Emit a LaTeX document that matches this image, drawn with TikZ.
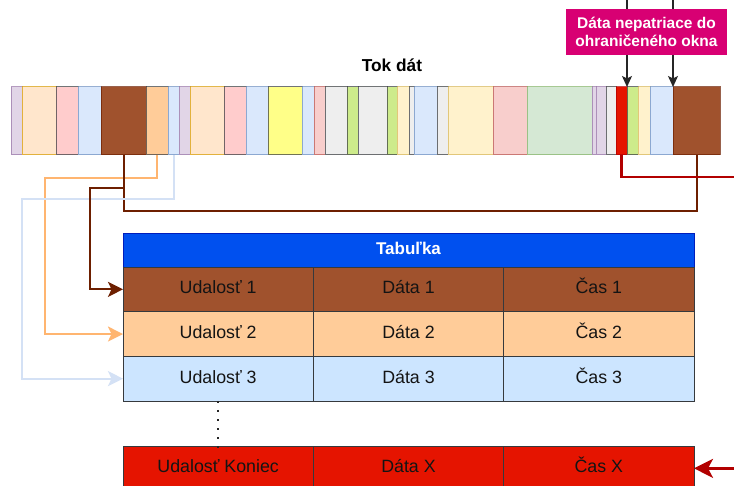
\documentclass[tikz,border=0pt]{standalone}
\usepackage{fontspec}
\setmainfont{Liberation Sans}
\usetikzlibrary{arrows.meta,calc}
\definecolor{cPur}{HTML}{E1D5E7}\definecolor{sPur}{HTML}{9673A6}
\definecolor{cPea}{HTML}{FFE6CC}\definecolor{sPea}{HTML}{D79B00}
\definecolor{cPnk}{HTML}{FFCCCC}\definecolor{sGry}{HTML}{36393D}
\definecolor{cLbl}{HTML}{DAE8FC}\definecolor{sLbl}{HTML}{6C8EBF}
\definecolor{cBrn}{HTML}{A0522D}\definecolor{sBrn}{HTML}{6D1F00}
\definecolor{cOrg}{HTML}{FFCC99}
\definecolor{cYel}{HTML}{FFFF88}
\definecolor{cPk2}{HTML}{F8CECC}\definecolor{sPk2}{HTML}{B85450}
\definecolor{cGry}{HTML}{EEEEEE}
\definecolor{cGrn}{HTML}{CDEB8B}
\definecolor{cCrm}{HTML}{FFF2CC}\definecolor{sCrm}{HTML}{D6B656}
\definecolor{cGr2}{HTML}{D5E8D4}\definecolor{sGr2}{HTML}{82B366}
\definecolor{cRed}{HTML}{E51400}\definecolor{sRed}{HTML}{B20000}
\definecolor{cBlu}{HTML}{0050EF}\definecolor{sBlu}{HTML}{001DBC}
\definecolor{cMag}{HTML}{D80073}
\definecolor{cRow3}{HTML}{CCE5FF}
\definecolor{lOrg}{HTML}{FFB570}
\definecolor{lLbl}{HTML}{D4E1F5}
\definecolor{lBrn}{HTML}{6D1F00}
\tikzset{
  segbox/.style={draw opacity=0.7, line width=1pt, inner sep=0pt, outer sep=0pt,
    minimum height=68pt, anchor=north west},
  cell/.style={draw=sGry, line width=0.8pt, inner sep=0pt, outer sep=0pt,
    minimum width=190.33pt, minimum height=44.7pt, anchor=north west,
    text height=12.6pt, text depth=3.6pt,
    text=black!92, font=\fontsize{17.8}{20}\selectfont},
  conn/.style={line width=2pt, rounded corners=0pt},
  tip/.style={-{Stealth[length=15pt,width=15pt,inset=3.5pt]}},
  lbl/.style={font=\bfseries\fontsize{17.3}{20}\selectfont, inner sep=0pt},
}
\begin{document}
\begin{tikzpicture}[x=1pt,y=-1pt]
\useasboundingbox (0,0) rectangle (734,486);
\fill[white] (0,0) rectangle (734,486);
% stream segments
\foreach \a/\b/\f/\d [count=\i] in {
  11/22/cPur/sPur, 22/56/cPea/sPea, 56/78/cPnk/sGry, 78/101/cLbl/sLbl,
  101/146/cBrn/sBrn, 146/168/cOrg/sGry, 168/179/cLbl/sLbl, 179/190/cPur/sPur,
  190/224/cPea/sPea, 224/246/cPnk/sGry, 246/268/cLbl/sLbl, 268/302/cYel/sGry,
  302/314/cLbl/sLbl, 314/325/cPk2/sPk2, 325/347/cGry/sGry, 347/358/cGrn/sGry,
  358/387/cGry/sGry, 387/397/cGrn/sGry, 397/409/cCrm/sCrm, 409/414/cGry/sGry,
  414/437/cLbl/sLbl, 437/448/cGry/sGry, 448/493/cCrm/sCrm, 493/527/cPk2/sPk2,
  527/592/cGr2/sGr2, 592/596/cPur/sPur, 596/606/cPur/sPur, 606/616/cGry/sGry,
  616/627/cRed/sRed, 627/638/cGrn/sGry, 638/650/cCrm/sCrm, 650/673/cLbl/sLbl,
  673/720/cBrn/sBrn}
{
  \pgfmathsetmacro{\w}{\b-\a}
  \node[segbox, fill=\f, draw=\d, minimum width=\w pt] (s\i) at (\a,87) {};
}
\node[lbl] (tok) at (392,65) {Tok dát};
% table
\node[draw=sBlu, line width=0.8pt, fill=cBlu, inner sep=0pt, outer sep=0pt,
  minimum width=571pt, minimum height=34pt, anchor=north west, text=white,
  text height=12pt, text depth=3.5pt,
  font=\bfseries\fontsize{17}{20}\selectfont] (hdr) at (123,233) {Tabuľka};
\node[cell, fill=cBrn] (r1a) at (123,267) {Udalosť 1};
\node[cell, fill=cBrn] (r1b) at (313.33,267) {Dáta 1};
\node[cell, fill=cBrn] (r1c) at (503.67,267) {Čas 1};
\node[cell, fill=cOrg] (r2a) at (123,311.7) {Udalosť 2};
\node[cell, fill=cOrg] (r2b) at (313.33,311.7) {Dáta 2};
\node[cell, fill=cOrg] (r2c) at (503.67,311.7) {Čas 2};
\node[cell, fill=cRow3] (r3a) at (123,356.3) {Udalosť 3};
\node[cell, fill=cRow3] (r3b) at (313.33,356.3) {Dáta 3};
\node[cell, fill=cRow3] (r3c) at (503.67,356.3) {Čas 3};
\node[cell, fill=cRed] (r4a) at (123,446) {Udalosť Koniec};
\node[cell, fill=cRed] (r4b) at (313.33,446) {Dáta X};
\node[cell, fill=cRed] (r4c) at (503.67,446) {Čas X};
\draw[line width=1.6pt, dash pattern=on 1.8pt off 7.2pt, black!85]
  (r3a.south) -- ($(r4a.north)+(0,6)$);
% connectors
\coordinate (b1) at (90,188);
\coordinate (b2) at (400,211);
\coordinate (o1) at (45,178);
\coordinate (l1) at (22,199);
\coordinate (rd1) at (760,177);
\draw[conn, lBrn] (s5.south) |- (b2) -| (s33.south);
\draw[conn, lOrg, tip] (s6.south) |- (o1) |- (r2a.west);
\draw[conn, lLbl, tip] (s7.south) |- (l1) |- (r3a.west);
\draw[conn, lBrn, tip] (s5.south) |- (b1) |- (r1a.west);
\draw[line width=2.8pt, sRed, -{Stealth[length=19pt,width=19pt,inset=5pt]}]
  (s29.south) |- (rd1) |- (r4c.east);
% callout
\coordinate (t1) at (627,-2);
\coordinate (t2) at (673,-2);
\draw[line width=1.3pt, black!85, -{Stealth[length=11pt,width=10pt,inset=2.5pt]}] (t1) -- (s29.north east);
\draw[line width=1.3pt, black!85, -{Stealth[length=11pt,width=10pt,inset=2.5pt]}] (t2) -- (s33.north west);
\node[fill=cMag, inner sep=0pt, minimum width=161pt, minimum height=46pt,
  text=white, align=center, font=\bfseries\fontsize{15.5}{18}\selectfont]
  (cal) at (646.5,32) {Dáta nepatriace do\\ohraničeného okna};
\end{tikzpicture}
\end{document}
